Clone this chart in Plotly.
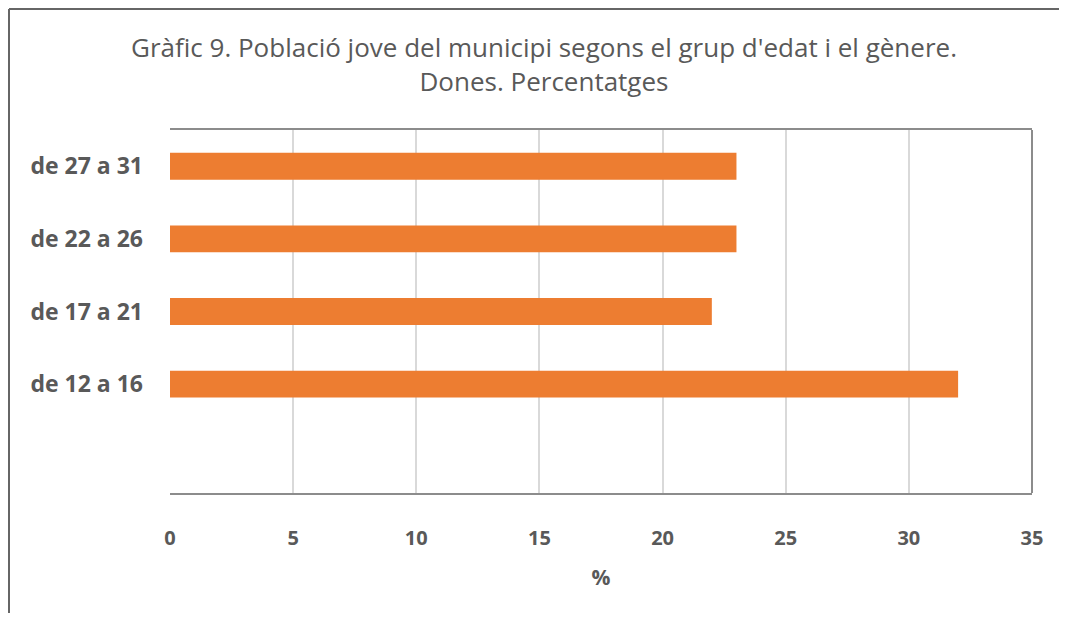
import plotly.graph_objects as go

categories = ["de 12 a 16", "de 17 a 21", "de 22 a 26", "de 27 a 31"]
values = [32, 22, 23, 23]
x_ticks = [0, 5, 10, 15, 20, 25, 30, 35]

TEXT = "#595959"
FONT = "Open Sans"

fig = go.Figure(go.Bar(
    y=categories, x=values, orientation="h",
    marker=dict(color="#ED7D31", line=dict(width=0)),
    width=0.37,
))

# page has an 8px body margin; figure coords = page coords - 8
W, H = 1052, 606
L, T = 162, 122
R = W - (1032 - 8)
B = H - (493 - 8)
pw, ph = W - L - R, H - T - B

def px(x):
    return (x - L) / pw

def py(y):
    return (H - B - y) / ph

fig.update_layout(
    width=W, height=H,
    margin=dict(l=L, r=R, t=T, b=B),
    paper_bgcolor="white", plot_bgcolor="white",
    showlegend=False,
    font=dict(family=FONT, color=TEXT),
    title=dict(
        text="Gràfic 9. Població jove del municipi segons el grup d'edat i el gènere.<br>Dones. Percentatges",
        x=px(544 - 8), xref="paper", xanchor="center",
        y=1 - 49 / H, yanchor="middle",
        font=dict(size=26, color=TEXT, family=FONT),
    ),
    xaxis=dict(
        range=[0, 35], tickvals=x_ticks, ticktext=[str(v) for v in x_ticks],
        showgrid=True, gridcolor="#D9D9D9", gridwidth=1.5,
        zeroline=False, showline=True, linecolor="#8C8C8C", linewidth=2,
        mirror=True, ticks="", ticklabelstandoff=26,
        tickfont=dict(size=20, color=TEXT, family=FONT, weight="bold"),
        title=dict(text="%", font=dict(size=21, color=TEXT, family=FONT, weight="bold"), standoff=20),
    ),
    yaxis=dict(
        type="category", categoryorder="array", categoryarray=categories,
        range=[-1.5, 3.5], showgrid=False, zeroline=False, showline=False,
        ticks="", ticklabelstandoff=26,
        tickfont=dict(size=23, color=TEXT, family=FONT, weight="bold"),
    ),
    shapes=[
        dict(type="line", xref="paper", yref="paper", x0=1, x1=1, y0=0, y1=1,
             line=dict(color="#8C8C8C", width=2)),
        dict(type="line", xref="paper", yref="paper",
             x0=px(1), x1=px(1), y0=py(H - 1), y1=py(1),
             line=dict(color="#666666", width=2), layer="above"),
        dict(type="line", xref="paper", yref="paper",
             x0=px(1), x1=px(W - 1), y0=py(1), y1=py(1),
             line=dict(color="#666666", width=2), layer="above"),
    ],
)

fig.write_html("out.html")
